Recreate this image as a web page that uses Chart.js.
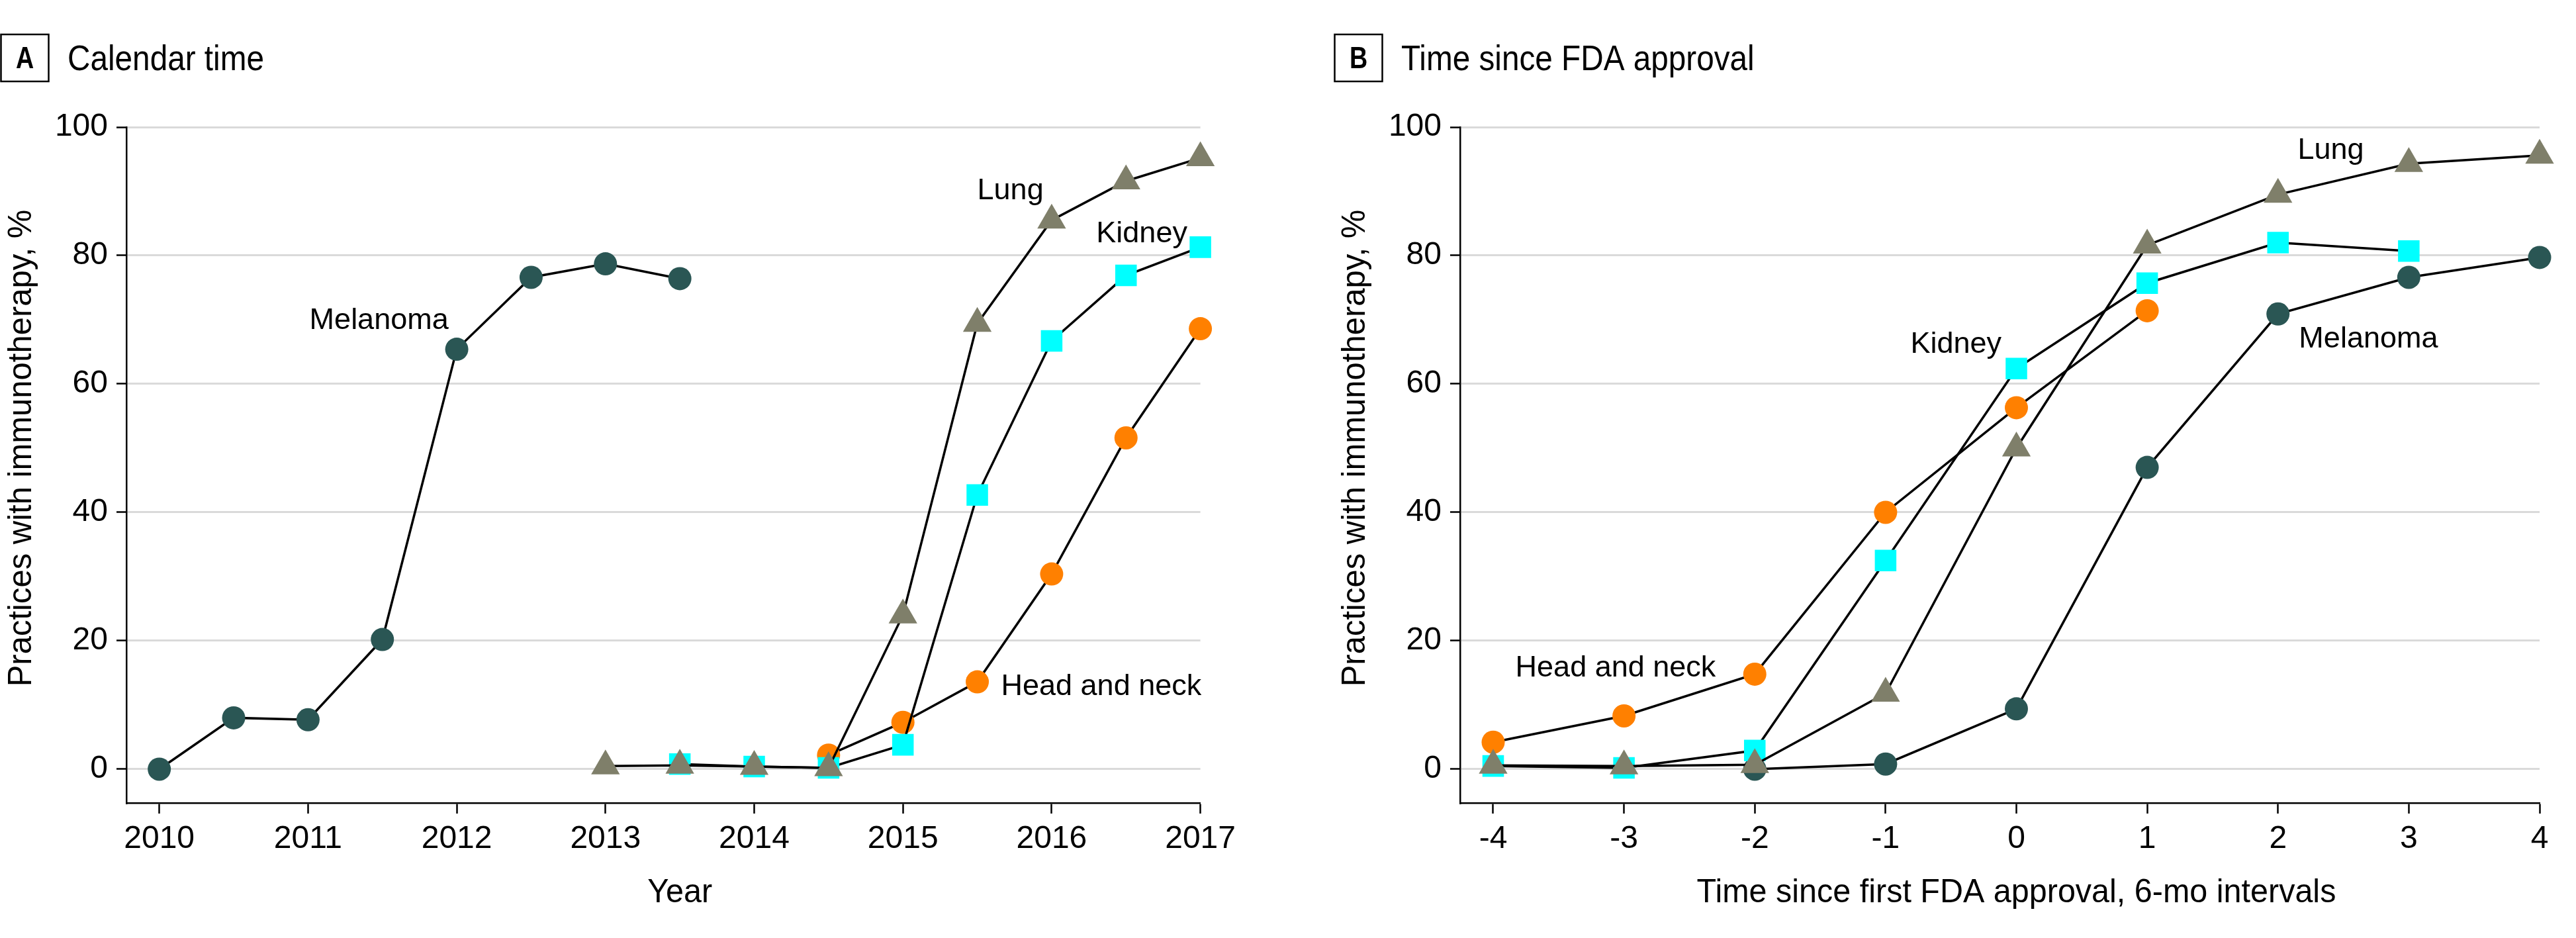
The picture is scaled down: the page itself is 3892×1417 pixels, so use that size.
<!DOCTYPE html>
<html><head><meta charset="utf-8">
<script src="https://cdn.jsdelivr.net/npm/chart.js@4.4.1/dist/chart.umd.min.js"></script>
<style>
html,body{margin:0;padding:0;background:#fff;}
body{width:3892px;height:1417px;position:relative;overflow:hidden;}
canvas{position:absolute;top:0;}
#cA{left:0;} #cB{left:2015px;}
</style></head><body>
<canvas id="cA" width="1877" height="1417"></canvas>
<canvas id="cB" width="1877" height="1417"></canvas>
<script>
// ---------- Panel A: calendar time (half-year steps) ----------
const periodsA   = [2010, 2010.5, 2011, 2011.5, 2012, 2012.5, 2013, 2013.5, 2014, 2014.5, 2015, 2015.5, 2016, 2016.5, 2017];
const melanomaA  = [0, 8.0, 7.7, 20.2, 65.4, 76.6, 78.7, 76.4, null, null, null, null, null, null, null];
const lungA      = [null, null, null, null, null, null, 0.5, 0.6, 0.4, 0.2, 24.0, 69.4, 85.5, 91.6, 95.2];
const kidneyA    = [null, null, null, null, null, null, null, 0.8, 0.4, 0.2, 3.8, 42.7, 66.7, 76.9, 81.3];
const headNeckA  = [null, null, null, null, null, null, null, null, null, 2.2, 7.3, 13.6, 30.4, 51.6, 68.6];
const xTicksA    = [2010, 2011, 2012, 2013, 2014, 2015, 2016, 2017];

// ---------- Panel B: time since first FDA approval (6-mo intervals) ----------
const periodsB   = [-4, -3, -2, -1, 0, 1, 2, 3, 4];
const melanomaB  = [null, null, 0, 0.8, 9.4, 47.0, 70.9, 76.6, 79.7];
const lungB      = [0.6, 0.5, 0.7, 11.8, 50.0, 81.6, 89.5, 94.3, 95.6];
const kidneyB    = [0.5, 0.2, 2.9, 32.5, 62.4, 75.7, 82.0, 80.7, null];
const headNeckB  = [4.2, 8.3, 14.8, 40.0, 56.3, 71.4, null, null, null];
const xTicksB    = [-4, -3, -2, -1, 0, 1, 2, 3, 4];

const yTicks     = [0, 20, 40, 60, 80, 100];

// text labels (anchored in data units: left edge, baseline)
const labelsA = [
  {text: 'Melanoma', x: 2011.01, y: 68.6},
  {text: 'Lung', x: 2015.50, y: 88.8},
  {text: 'Kidney', x: 2016.30, y: 82.1},
  {text: 'Head and neck', x: 2015.66, y: 11.5}
];
const labelsB = [
  {text: 'Head and neck', x: -3.83, y: 14.4},
  {text: 'Kidney', x: -0.81, y: 64.8},
  {text: 'Lung', x: 2.15, y: 95.0},
  {text: 'Melanoma', x: 2.16, y: 65.7}
];

const COLORS = {melanoma: '#2a5654', lung: '#7f7f6a', kidney: '#00ffff', headNeck: '#ff8000'};

function pts(xs, ys) {
  return xs.map((x, i) => ({x: x, y: ys[i]})).filter(p => p.y !== null);
}
function ds(label, xs, ys, color, style, r) {
  return {
    label: label, data: pts(xs, ys),
    borderColor: '#000', borderWidth: 3.5,
    backgroundColor: color, pointBackgroundColor: color,
    pointBorderColor: color, pointBorderWidth: 0,
    pointStyle: style, pointRadius: r, pointHoverRadius: r,
    tension: 0, clip: false, fill: false
  };
}

// draw text squeezed horizontally (condensed look)
function narrowText(ctx, text, x, y, sx, align) {
  ctx.save();
  ctx.translate(x, y);
  ctx.scale(sx, 1);
  ctx.textAlign = align;
  ctx.fillText(text, 0, 0);
  ctx.restore();
}

const textPlugin = {
  id: 'panelText',
  afterDraw(chart, args, opts) {
    const ctx = chart.ctx, xs = chart.scales.x, ys = chart.scales.y;
    ctx.save();
    ctx.fillStyle = '#000';
    ctx.strokeStyle = '#000';
    ctx.textBaseline = 'alphabetic';
    // panel box and letter
    ctx.lineWidth = 2.5;
    ctx.strokeRect(1.5, 52, 72, 71);
    ctx.font = 'bold 46px "Liberation Sans"';
    narrowText(ctx, opts.letter, 37.5, 103, 0.82, 'center');
    // panel title
    ctx.font = '53px "Liberation Sans"';
    narrowText(ctx, opts.title, 102, 106, 0.9, 'left');
    // y-axis title
    const yc = (ys.getPixelForValue(yTicks[0]) + ys.getPixelForValue(yTicks[yTicks.length - 1])) / 2;
    ctx.save();
    ctx.translate(47, yc);
    ctx.rotate(-Math.PI / 2);
    ctx.font = '50px "Liberation Sans"';
    narrowText(ctx, opts.yTitle, 0, 0, 0.98, 'center');
    ctx.restore();
    // x-axis title
    const t = opts.xTicks;
    const xc = (xs.getPixelForValue(t[0]) + xs.getPixelForValue(t[t.length - 1])) / 2;
    ctx.font = '50px "Liberation Sans"';
    narrowText(ctx, opts.xTitle, xc, 1363, 0.97, 'center');
    // series labels
    ctx.font = '45px "Liberation Sans"';
    ctx.textAlign = 'left';
    opts.labels.forEach(l => ctx.fillText(l.text, xs.getPixelForValue(l.x), ys.getPixelForValue(l.y)));
    ctx.restore();
  }
};

function makeChart(id, datasets, xMin, xMax, xTicks, letter, title, xTitle, labels) {
  return new Chart(document.getElementById(id), {
    type: 'line',
    data: {datasets: datasets},
    plugins: [textPlugin],
    options: {
      responsive: false, animation: false, events: [],
      layout: {padding: {left: 0, top: 192, right: 55, bottom: 0}},
      plugins: {
        legend: {display: false}, tooltip: {enabled: false},
        panelText: {letter: letter, title: title, xTitle: xTitle,
                    yTitle: 'Practices with immunotherapy, %', labels: labels, xTicks: xTicks}
      },
      scales: {
        x: {
          type: 'linear', min: xMin, max: xMax,
          afterBuildTicks: s => { s.ticks = xTicks.map(v => ({value: v})); },
          afterFit: s => { s.height = 204; },
          grid: {drawOnChartArea: false, drawTicks: true, tickLength: 16, tickColor: '#000', tickWidth: 2.5},
          border: {display: true, color: '#000', width: 2.5},
          ticks: {color: '#000', font: {family: 'Liberation Sans', size: 48}, padding: 10,
                  maxRotation: 0, autoSkip: false, callback: v => String(v)}
        },
        y: {
          min: -5.26, max: 100,
          afterBuildTicks: s => { s.ticks = yTicks.map(v => ({value: v})); },
          afterFit: s => { s.width = 191; },
          grid: {color: '#dadada', lineWidth: 3, tickColor: '#000', tickLength: 15, tickWidth: 2.5},
          border: {display: true, color: '#000', width: 2.5},
          ticks: {color: '#000', font: {family: 'Liberation Sans', size: 48}, padding: 13,
                  callback: v => String(v)}
        }
      }
    }
  });
}

makeChart('cA', [
  ds('Lung', periodsA, lungA, COLORS.lung, 'triangle', 25),
  ds('Kidney', periodsA, kidneyA, COLORS.kidney, 'rect', 23),
  ds('Head and neck', periodsA, headNeckA, COLORS.headNeck, 'circle', 17.5),
  ds('Melanoma', periodsA, melanomaA, COLORS.melanoma, 'circle', 17.5)
], 2009.779, 2017, xTicksA, 'A', 'Calendar time', 'Year', labelsA);

makeChart('cB', [
  ds('Lung', periodsB, lungB, COLORS.lung, 'triangle', 25),
  ds('Kidney', periodsB, kidneyB, COLORS.kidney, 'rect', 23),
  ds('Head and neck', periodsB, headNeckB, COLORS.headNeck, 'circle', 17.5),
  ds('Melanoma', periodsB, melanomaB, COLORS.melanoma, 'circle', 17.5)
], -4.253, 4, xTicksB, 'B', 'Time since FDA approval', 'Time since first FDA approval, 6-mo intervals', labelsB);
</script>
</body></html>
